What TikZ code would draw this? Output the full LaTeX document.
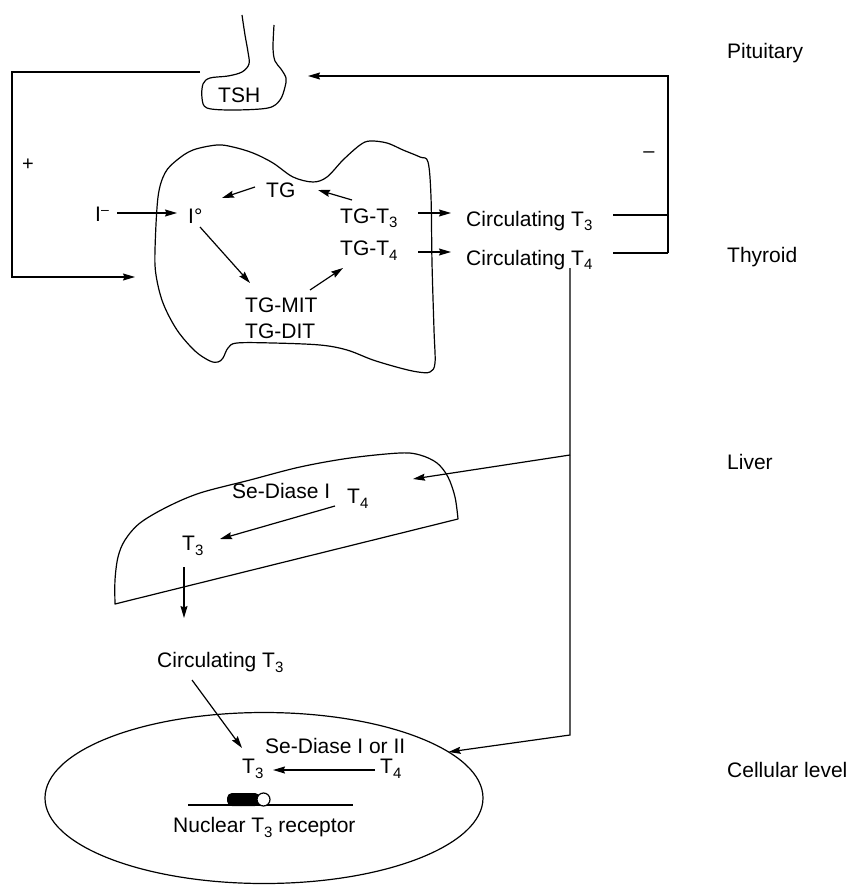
\documentclass[tikz,border=0pt]{standalone}
\usepackage{fontspec}
\setmainfont{Liberation Sans}
\usetikzlibrary{arrows.meta,calc,shapes.geometric}
% lowered small figure for T3 / T4
\newcommand\lsub[1]{\raisebox{-5pt}{\fontsize{15}{15}\selectfont #1}}
\newcommand\lsup[1]{\raisebox{7pt}{\fontsize{14}{14}\selectfont #1}}
\begin{document}
\begin{tikzpicture}[x=1pt,y=-1pt,
  lbl/.style={font=\fontsize{21}{24}\selectfont, inner sep=0pt, anchor=base west},
  plainline/.style={line width=1.2pt},
  arr/.style={line width=1.2pt, -{Stealth[length=12pt,width=7pt,inset=1.5pt]}},
  organ/.style={line width=1.2pt, line join=round},
]
\useasboundingbox (0,0) rectangle (849,885);

% ---- organ outlines ----
% pituitary stalk and gland
\draw[organ] plot[smooth, tension=0.55] coordinates {(242,15) (245,35) (248,52) (249,64) (242,72) (228,76) (210,78) (203,84) (202,98) (207,108) (233,110) (268,108) (280,100) (285,87) (286,78) (281,69) (275,61) (273,48) (274,25)};
% thyroid
\draw[organ] plot[smooth cycle, tension=0.55] coordinates {(155,250) (158,197) (165,173) (177,160) (193,150) (217,145) (233,147) (253,153) (273,163) (293,177) (313,182) (327,177) (343,160) (360,145) (370,141) (387,143) (403,150) (420,157) (428,162) (431,197) (432,263) (434,330) (435,363) (430,372) (418,372) (400,368) (373,360) (347,350) (320,345) (273,343) (237,343) (228,348) (223,358) (218,362) (210,361) (195,351) (177,330) (163,303) (156,275)};
% liver
\draw[organ] plot[smooth, tension=0.55] coordinates {(115,604) (115,580) (118,557) (125,540) (140,523) (167,507) (200,493) (250,480) (300,467) (350,458) (400,453) (420,455) (437,463) (448,477) (455,497) (458,519)} -- cycle;
% cell
\node[ellipse, draw, line width=1.2pt, minimum width=438pt, minimum height=171pt, inner sep=0pt, outer sep=0pt] (cell) at (264,798) {};

% ---- labels ----
\node[lbl] (TSH) at (218,103) {TSH};
\node[lbl] (Im) at (95,222) {I\lsup{–}};
\node[lbl] (Io) at (188,223) {I°};
\node[lbl] (TG) at (266,198) {TG};
\node[lbl] (TGt3) at (340,223) {TG-T\lsub{3}};
\node[lbl] (TGt4) at (340,255) {TG-T\lsub{4}};
\node[lbl] (MIT) at (245,312) {TG-MIT};
\node[lbl] (DIT) at (245,338) {TG-DIT};
\node[lbl] (CT3) at (466,226) {Circulating T\lsub{3}};
\node[lbl] (CT4) at (466,265) {Circulating T\lsub{4}};
\node[lbl] (LSe) at (232,498) {Se-Diase I};
\node[lbl] (LT4) at (347,503) {T\lsub{4}};
\node[lbl] (LT3) at (182,550) {T\lsub{3}};
\node[lbl] (CT3b) at (157,667) {Circulating T\lsub{3}};
\node[lbl] (CSe) at (265,753) {Se-Diase I or II};
\node[lbl] (CellT3) at (242,773) {T\lsub{3}};
\node[lbl] (CellT4) at (380,773) {T\lsub{4}};
\node[lbl] (NucR) at (173,832) {Nuclear T\lsub{3} receptor};

\node[lbl] (pit) at (727,59) {Pituitary};
\node[lbl] (thy) at (727,262) {Thyroid};
\node[lbl] (liv) at (727,469) {Liver};
\node[lbl] (cel) at (727,777) {Cellular level};

\node[font=\fontsize{20}{20}\selectfont, inner sep=0pt] (plus) at (28,165) {+};
\node[font=\fontsize{20}{20}\selectfont, inner sep=0pt] (minus) at (649,155) {–};

% ---- thyroid pathway ----
\draw[arr] ($(Im.base west)+(22,-9)$) -- ($(Io.base west)+(-11,-10)$);
\draw[arr] ($(TG.base west)+(-11,-11)$) -- ($(Io.base west)+(34,-25)$);
\draw[arr] ($(TGt3.base west)+(12,-23)$) -- ($(TG.base west)+(52,-8)$);
\draw[arr] ($(Io.base west)+(12,4)$) -- ($(MIT.base west)+(5,-29)$);
\draw[arr] ($(MIT.base west)+(65,-22)$) -- ($(TGt4.base west)+(3,13)$);
\draw[arr] ($(TGt3.base west)+(78,-10)$) -- ($(CT3.base west)+(-15,-13)$);
\draw[arr] ($(TGt4.base west)+(78,-3)$) -- ($(CT4.base west)+(-15,-13)$);

% ---- feedback loops ----
\coordinate (jT3) at (668,215);
\coordinate (jT4) at (668,253);
\coordinate (jTop) at (668,76);
\draw[plainline] ($(CT3.base west)+(147,-11)$) -- (jT3);
\draw[plainline] ($(CT4.base west)+(147,-12)$) -- (jT4);
\draw[arr, line join=miter] (jT4) -- (jTop) -- ($(TSH.base west)+(90,-27)$);

\coordinate (fbL1) at (12,72);
\coordinate (fbL2) at (12,277);
\coordinate (thyIn) at (135,277);
\draw[arr, line join=miter] ($(TSH.base west)+(-18,-31)$) -- (fbL1) -- (fbL2) -- (thyIn);

% ---- peripheral T4 supply ----
\coordinate (jLiv) at (570,455);
\coordinate (vBot) at (570,735);
\draw[arr] ($(CT4.base west)+(104,3)$) -- (vBot) -- (cell.14);
\draw[arr] (jLiv) -- ($(LT4.base west)+(66,-24)$);

% ---- liver and cell conversions ----
\draw[arr] ($(LT4.base west)+(-12,3)$) -- ($(LT3.base west)+(38,-11)$);
\draw[arr] ($(LT3.base west)+(2,17)$) -- ($(CT3b.base west)+(27,-49)$);
\draw[arr] ($(CT3b.base west)+(35,13)$) -- ($(CellT3.base west)+(0,-25)$);
\draw[arr] ($(CellT4.base west)+(-5,-3)$) -- ($(CellT3.base west)+(31,-3)$);

% ---- nuclear receptor ----
\draw[plainline] (188,805) -- (353,805);
\fill[rounded corners=5pt] (227,793) rectangle (260,806);
\draw[line width=1.2pt, fill=white] (263.5,799.5) circle (6.5pt);
\end{tikzpicture}
\end{document}
